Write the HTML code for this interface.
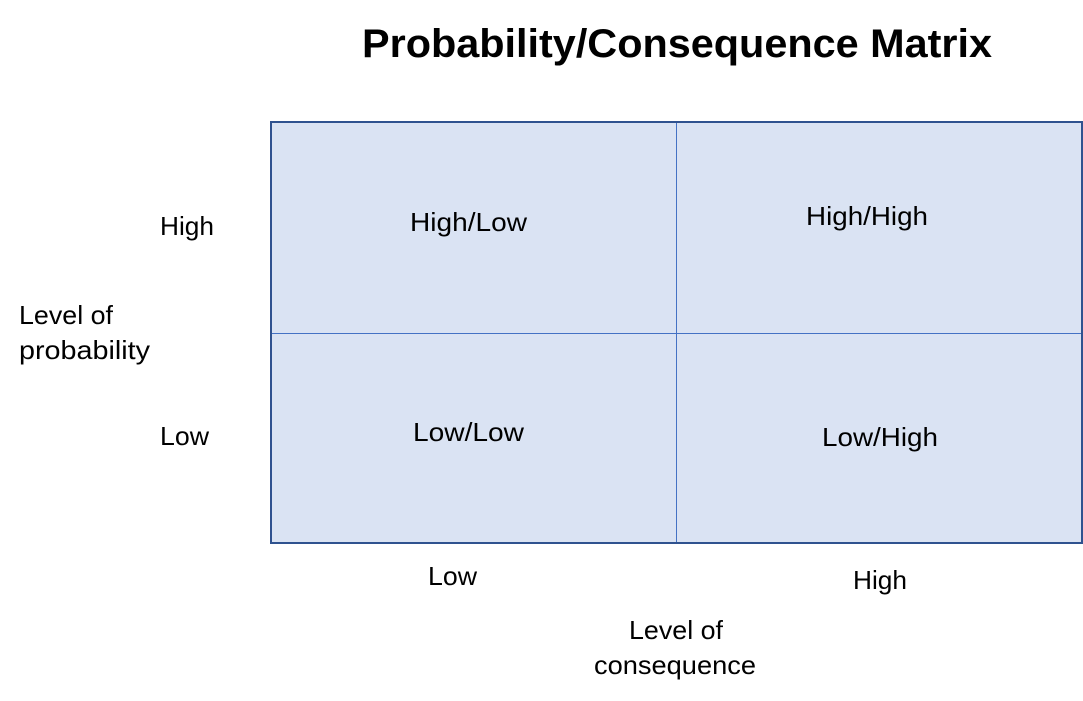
<!DOCTYPE html>
<html><head><meta charset="utf-8"><style>html,body{margin:0;padding:0;background:#fff;}svg{display:block}</style></head>
<body>
<svg width="1083" height="701" viewBox="0 0 1083 701" xmlns="http://www.w3.org/2000/svg" font-family="Liberation Sans, sans-serif" fill="#000">
<rect x="271" y="122" width="811" height="421" fill="#dae3f3" stroke="#2f528f" stroke-width="2"/>
<line x1="676.5" y1="123" x2="676.5" y2="542" stroke="#4472c4" stroke-width="1"/>
<line x1="272" y1="333.5" x2="1081" y2="333.5" stroke="#4472c4" stroke-width="1"/>
<text x="362" y="57" font-size="40" font-weight="bold" textLength="630" lengthAdjust="spacingAndGlyphs">Probability/Consequence Matrix</text>
<g font-size="26">
<text x="160" y="235" textLength="54" lengthAdjust="spacingAndGlyphs">High</text>
<text x="19" y="324" textLength="94" lengthAdjust="spacingAndGlyphs">Level of</text>
<text x="19" y="359" textLength="131" lengthAdjust="spacingAndGlyphs">probability</text>
<text x="160" y="445" textLength="49" lengthAdjust="spacingAndGlyphs">Low</text>
<text x="410" y="231" textLength="117" lengthAdjust="spacingAndGlyphs">High/Low</text>
<text x="806" y="225" textLength="122" lengthAdjust="spacingAndGlyphs">High/High</text>
<text x="413" y="441" textLength="111" lengthAdjust="spacingAndGlyphs">Low/Low</text>
<text x="822" y="446" textLength="116" lengthAdjust="spacingAndGlyphs">Low/High</text>
<text x="428" y="585" textLength="49" lengthAdjust="spacingAndGlyphs">Low</text>
<text x="853" y="589" textLength="54" lengthAdjust="spacingAndGlyphs">High</text>
<text x="629" y="639" textLength="94" lengthAdjust="spacingAndGlyphs">Level of</text>
<text x="594" y="674" textLength="162" lengthAdjust="spacingAndGlyphs">consequence</text>
</g>
</svg>
</body></html>
